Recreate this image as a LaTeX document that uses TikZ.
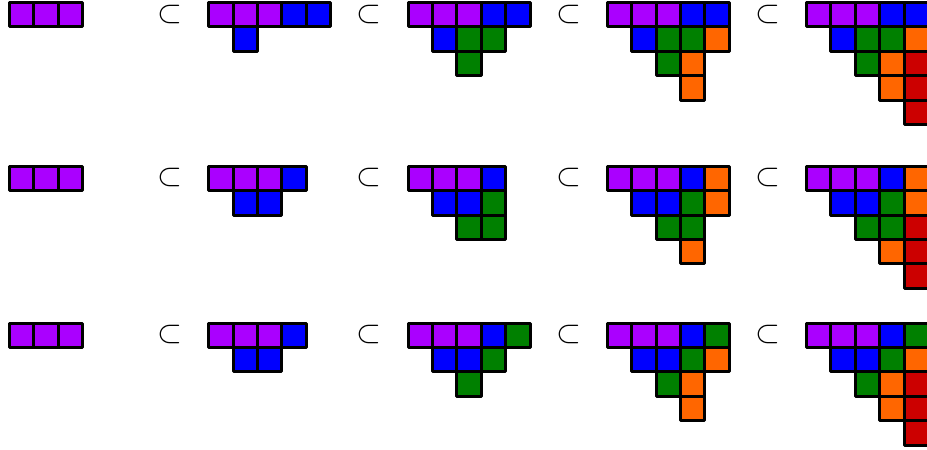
\documentclass[tikz,border=0pt]{standalone}
\definecolor{cP}{HTML}{AA00FF}
\definecolor{cB}{HTML}{0000FF}
\definecolor{cG}{HTML}{008000}
\definecolor{cO}{HTML}{FF6600}
\definecolor{cR}{HTML}{CC0000}
\newcommand{\shiftedrow}[4]{% origin x, origin y, row index, colour list
  \foreach \cc [count=\j from 0] in {#4} {
    \pgfmathsetmacro{\xx}{#1+(#3+\j)*24.4}
    \pgfmathsetmacro{\yy}{#2+#3*24.4}
    \draw[cellbox,fill=c\cc] (\xx,\yy) rectangle ++(24.4,24.4);
  }}
\begin{document}
\begin{tikzpicture}[x=1pt,y=-1pt,
  cellbox/.style={draw=black,line width=3pt,line join=round},
  subsetsym/.style={inner sep=0pt,scale=3.2}]
\useasboundingbox (0,0) rectangle (927,450);
\clip (0,0) rectangle (927,450);
% ---------- band 1 ----------
\def\by{2.5}
\shiftedrow{9.5}{\by}{0}{P,P,P}
\shiftedrow{208.75}{\by}{0}{P,P,P,B,B}
\shiftedrow{208.75}{\by}{1}{B}
\shiftedrow{408}{\by}{0}{P,P,P,B,B}
\shiftedrow{408}{\by}{1}{B,G,G}
\shiftedrow{408}{\by}{2}{G}
\shiftedrow{607.25}{\by}{0}{P,P,P,B,B}
\shiftedrow{607.25}{\by}{1}{B,G,G,O}
\shiftedrow{607.25}{\by}{2}{G,O}
\shiftedrow{607.25}{\by}{3}{O}
\shiftedrow{806.5}{\by}{0}{P,P,P,B,B}
\shiftedrow{806.5}{\by}{1}{B,G,G,O}
\shiftedrow{806.5}{\by}{2}{G,O,R}
\shiftedrow{806.5}{\by}{3}{O,R}
\shiftedrow{806.5}{\by}{4}{R}
\node[subsetsym] (s11) at (170,14.5) {$\subset$};
\node[subsetsym] (s12) at (369.3,14.5) {$\subset$};
\node[subsetsym] (s13) at (568.5,14.5) {$\subset$};
\node[subsetsym] (s14) at (767.8,14.5) {$\subset$};
% ---------- band 2 ----------
\def\by{166.2}
\shiftedrow{9.5}{\by}{0}{P,P,P}
\shiftedrow{208.75}{\by}{0}{P,P,P,B}
\shiftedrow{208.75}{\by}{1}{B,B}
\shiftedrow{408}{\by}{0}{P,P,P,B}
\shiftedrow{408}{\by}{1}{B,B,G}
\shiftedrow{408}{\by}{2}{G,G}
\shiftedrow{607.25}{\by}{0}{P,P,P,B,O}
\shiftedrow{607.25}{\by}{1}{B,B,G,O}
\shiftedrow{607.25}{\by}{2}{G,G}
\shiftedrow{607.25}{\by}{3}{O}
\shiftedrow{806.5}{\by}{0}{P,P,P,B,O}
\shiftedrow{806.5}{\by}{1}{B,B,G,O}
\shiftedrow{806.5}{\by}{2}{G,G,R}
\shiftedrow{806.5}{\by}{3}{O,R}
\shiftedrow{806.5}{\by}{4}{R}
\node[subsetsym] (s21) at (170,177.8) {$\subset$};
\node[subsetsym] (s22) at (369.3,177.8) {$\subset$};
\node[subsetsym] (s23) at (568.5,177.8) {$\subset$};
\node[subsetsym] (s24) at (767.8,177.8) {$\subset$};
% ---------- band 3 ----------
\def\by{323}
\shiftedrow{9.5}{\by}{0}{P,P,P}
\shiftedrow{208.75}{\by}{0}{P,P,P,B}
\shiftedrow{208.75}{\by}{1}{B,B}
\shiftedrow{408}{\by}{0}{P,P,P,B,G}
\shiftedrow{408}{\by}{1}{B,B,G}
\shiftedrow{408}{\by}{2}{G}
\shiftedrow{607.25}{\by}{0}{P,P,P,B,G}
\shiftedrow{607.25}{\by}{1}{B,B,G,O}
\shiftedrow{607.25}{\by}{2}{G,O}
\shiftedrow{607.25}{\by}{3}{O}
\shiftedrow{806.5}{\by}{0}{P,P,P,B,G}
\shiftedrow{806.5}{\by}{1}{B,B,G,O}
\shiftedrow{806.5}{\by}{2}{G,O,R}
\shiftedrow{806.5}{\by}{3}{O,R}
\shiftedrow{806.5}{\by}{4}{R}
\node[subsetsym] (s31) at (170,334.5) {$\subset$};
\node[subsetsym] (s32) at (369.3,334.5) {$\subset$};
\node[subsetsym] (s33) at (568.5,334.5) {$\subset$};
\node[subsetsym] (s34) at (767.8,334.5) {$\subset$};
\end{tikzpicture}
\end{document}
